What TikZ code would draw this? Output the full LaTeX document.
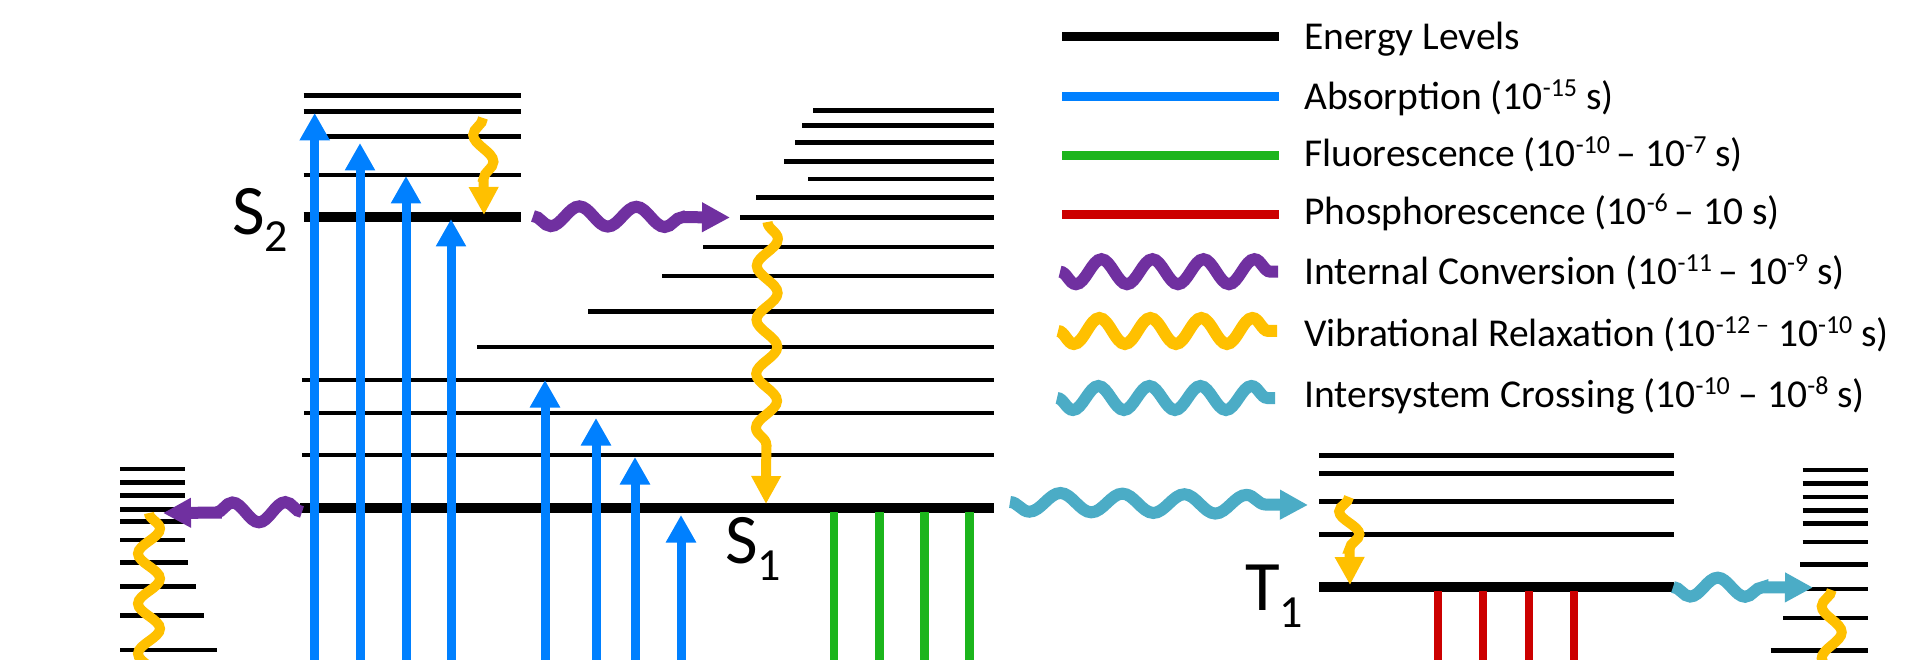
\documentclass[tikz,border=0pt]{standalone}
\usepackage{fontspec}
\setmainfont{Carlito}
\usetikzlibrary{arrows.meta,decorations.pathmorphing}
\definecolor{absblue}{HTML}{0080FF}
\definecolor{flgreen}{HTML}{1CB51C}
\definecolor{phred}{HTML}{CC0000}
\definecolor{icpurple}{HTML}{7030A0}
\definecolor{vrgold}{HTML}{FFC000}
\definecolor{isccyan}{HTML}{4BACC6}
\newcommand{\supr}[1]{\raisebox{13pt}{\fontsize{26}{26}\selectfont #1}}
\newcommand{\subr}[1]{\raisebox{-17pt}{\fontsize{46}{46}\selectfont #1}}
\begin{document}
\begin{tikzpicture}[x=1pt,y=-1pt,
  lvl/.style={black,line width=4.7pt},
  lvlthick/.style={black,line width=9.4pt},
  absarrow/.style={absblue,line width=9pt,-{Triangle[width=28.6pt,length=27.5pt]}},
  flline/.style={flgreen,line width=8.5pt},
  phline/.style={phred,line width=8.5pt},
  wtip/.style={-{Triangle[width=28pt,length=28pt]}},
  icwave/.style={icpurple,line width=12pt,decorate},
  vrwave/.style={vrgold,line width=10pt,decorate},
  iscwave/.style={isccyan,line width=12pt,decorate},
  legtext/.style={anchor=base west,inner sep=0pt,font=\fontsize{39.5}{39.5}\selectfont},
  statelabel/.style={anchor=base west,inner sep=0pt,font=\fontsize{71}{71}\selectfont}
]
\clip (0,0) rectangle (1920,660);
\fill[white] (0,0) rectangle (1920,660);

% ---------- S2 block
\foreach \y in {95.7,111.7,136.7,175} \draw[lvl] (303.7,\y) -- (520.8,\y);
\draw[lvlthick] (303.7,217) -- (520.8,217);
% ---------- S1 block
\foreach \x/\y in {813/110.7,802/125.3,795/142.3,784/161.7,808/179,756/197.3,740/217.7,703/247,662/276,588/311.7,477/347,302/380,304/413,302/455}
  \draw[lvl] (\x,\y) -- (994,\y);
\draw[lvlthick] (300,508) -- (994,508);
% ---------- T1 block
\foreach \y in {455.7,473.3,501.7,534.3} \draw[lvl] (1319,\y) -- (1674,\y);
\draw[lvlthick] (1319,587) -- (1674,587);
% ---------- left block
\foreach \y/\x in {469/185,482.3/185,495.7/185,509.3/185,521.3/185,540/185,562.3/187.7,586.7/196,615.7/204,650/216.7}
  \draw[lvl] (120,\y) -- (\x,\y);
% ---------- right block
\foreach \y/\x in {470/1802.7,483.3/1802.7,497/1802.7,510.3/1802.7,523.7/1802.7,542/1802.7,564.3/1800,589/1796,618/1783.3,650.7/1770.7}
  \draw[lvl] (\x,\y) -- (1868.3,\y);

% ---------- absorption arrows
\foreach \n/\x/\y in {a1/314.7/113,a2/360/143,a3/406/176,a4/451/219,b1/545/380,b2/596/418,b3/635/457,b4/681/515} {
  \coordinate (\n-lo) at (\x,700);
  \coordinate (\n-hi) at (\x,\y);
  \draw[absarrow] (\n-lo) -- (\n-hi);
}
% ---------- fluorescence
\foreach \n/\x in {f1/834,f2/879.6,f3/924.5,f4/969.4} {
  \coordinate (\n-hi) at (\x,512);
  \coordinate (\n-lo) at (\x,700);
  \draw[flline] (\n-hi) -- (\n-lo);
}
% ---------- phosphorescence
\foreach \n/\x in {p1/1438,p2/1483,p3/1529,p4/1574} {
  \coordinate (\n-hi) at (\x,591);
  \coordinate (\n-lo) at (\x,700);
  \draw[phline] (\n-hi) -- (\n-lo);
}

% ---------- wavy arrows
\coordinate (ic1s) at (533,216);   \coordinate (ic1e) at (730,217.5);
\draw[icwave,wtip,decoration={snake,segment length=57pt,amplitude=-10pt,post length=30pt}] (ic1s) -- (ic1e);
\coordinate (ic2s) at (302,512);   \coordinate (ic2e) at (163,513);
\draw[icwave,wtip,decoration={snake,segment length=53pt,amplitude=-10pt,post length=31pt}] (ic2s) -- (ic2e);

\coordinate (vr1s) at (767.5,222); \coordinate (vr1e) at (766,504);
\draw[vrwave,wtip,decoration={snake,segment length=54pt,amplitude=10.5pt,post length=36pt}] (vr1s) -- (vr1e);
\coordinate (vr2s) at (483,118);   \coordinate (vr2e) at (484,215);
\draw[vrwave,wtip,decoration={snake,segment length=54pt,amplitude=-10pt,post length=35pt}] (vr2s) -- (vr2e);
\coordinate (vr3s) at (1349,497);  \coordinate (vr3e) at (1350,585);
\draw[vrwave,wtip,decoration={snake,segment length=46pt,amplitude=-10pt,post length=36pt}] (vr3s) -- (vr3e);
\coordinate (vr4s) at (1831.7,590); \coordinate (vr4e) at (1831.7,730);
\draw[vrwave,wtip,decoration={snake,segment length=52pt,amplitude=-10pt,post length=30pt}] (vr4s) -- (vr4e);
\coordinate (vr5s) at (149,513);   \coordinate (vr5e) at (149,730);
\draw[vrwave,wtip,decoration={snake,segment length=50pt,amplitude=11pt,post length=30pt}] (vr5s) -- (vr5e);

\coordinate (is1s) at (1010,502);  \coordinate (is1e) at (1308,505);
\draw[iscwave,wtip,decoration={snake,segment length=62pt,amplitude=-9.5pt,post length=36pt}] (is1s) -- (is1e);
\coordinate (is2s) at (1673,587);  \coordinate (is2e) at (1813,587.5);
\draw[iscwave,wtip,decoration={snake,segment length=55pt,amplitude=-9.5pt,post length=30pt}] (is2s) -- (is2e);

% ---------- state labels
\node[statelabel] (S2) at (232,235) {S\subr{2}};
\node[statelabel] (S1) at (725,563) {S\subr{1}};
\node[statelabel] (T1) at (1245,610) {T\subr{1}};

% ---------- legend
\draw[lvlthick] (1062,36.7) -- (1278.5,36.7);
\draw[absblue,line width=9pt] (1062,97) -- (1278.5,97);
\draw[flgreen,line width=9pt] (1062,155.3) -- (1278.5,155.3);
\draw[phred,line width=9pt] (1062,214.5) -- (1278.5,214.5);
\draw[icwave,decoration={snake,segment length=51pt,amplitude=-12.5pt}] (1060,271.7) -- (1278,271.7);
\draw[vrwave,line width=12pt,decoration={snake,segment length=51pt,amplitude=-13pt}] (1058,331) -- (1277,331);
\draw[iscwave,decoration={snake,segment length=51pt,amplitude=-12pt}] (1057,398) -- (1275,398);

\node[legtext] (L1) at (1304,50) {Energy Levels};
\node[legtext] (L2) at (1304,110) {Absorption (10\supr{-15} s)};
\node[legtext] (L3) at (1304,166.7) {Fluorescence (10\supr{-10}\,– 10\supr{-7} s)};
\node[legtext] (L4) at (1304,225) {Phosphorescence (10\supr{-6}\,– 10 s)};
\node[legtext] (L5) at (1304,285) {Internal Conversion (10\supr{-11}\,– 10\supr{-9} s)};
\node[legtext] (L6) at (1304,346) {Vibrational Relaxation (10\supr{-12 –} 10\supr{-10} s)};
\node[legtext] (L7) at (1304,407.3) {Intersystem Crossing (10\supr{-10} – 10\supr{-8} s)};
\end{tikzpicture}
\end{document}
